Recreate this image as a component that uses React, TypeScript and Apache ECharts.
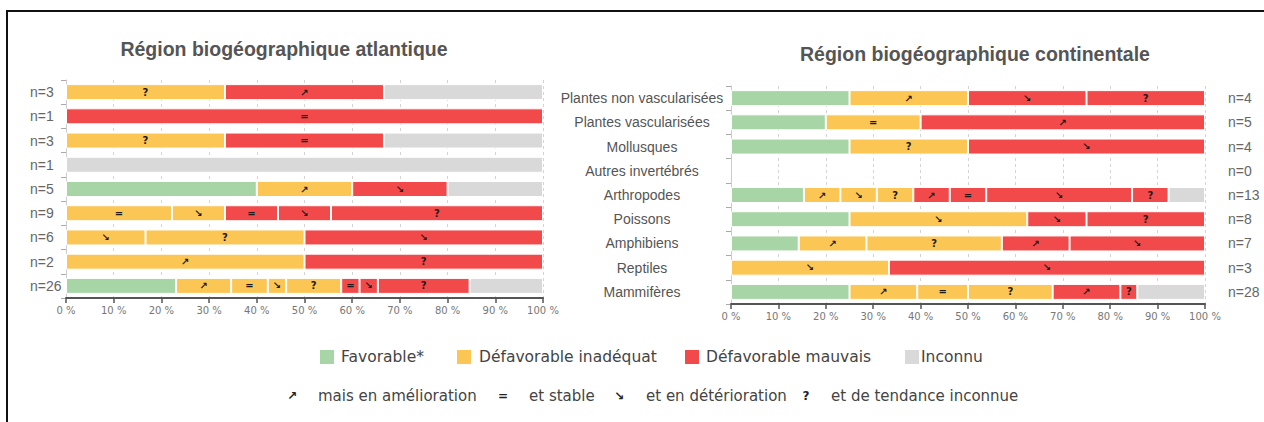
import React, { useEffect, useRef } from "react";
import * as echarts from "echarts";

// ---------- DATA ----------
const leftTitle = "Région biogéographique atlantique";
const rightTitle = "Région biogéographique continentale";

const leftCategories = ["n=3", "n=1", "n=3", "n=1", "n=5", "n=9", "n=6", "n=2", "n=26"];
const rightCategories = [
  "Plantes non vascularisées",
  "Plantes vascularisées",
  "Mollusques",
  "Autres invertébrés",
  "Arthropodes",
  "Poissons",
  "Amphibiens",
  "Reptiles",
  "Mammifères",
];
const rightCountLabels = ["n=4", "n=5", "n=4", "n=0", "n=13", "n=8", "n=7", "n=3", "n=28"];

const xTickValues = [0, 10, 20, 30, 40, 50, 60, 70, 80, 90, 100];

// counts per segment (atlantique)
const leftFavorable = [0, 0, 0, 0, 2, 0, 0, 0, 6];
const leftInadUp = [0, 0, 0, 0, 1, 0, 0, 1, 3];
const leftInadEq = [0, 0, 0, 0, 0, 2, 0, 0, 2];
const leftInadDown = [0, 0, 0, 0, 0, 1, 1, 0, 1];
const leftInadUnk = [1, 0, 1, 0, 0, 0, 2, 0, 3];
const leftBadUp = [1, 0, 0, 0, 0, 0, 0, 0, 0];
const leftBadEq = [0, 1, 1, 0, 0, 1, 0, 0, 1];
const leftBadDown = [0, 0, 0, 0, 1, 1, 3, 0, 1];
const leftBadUnk = [0, 0, 0, 0, 0, 4, 0, 1, 5];
const leftUnknown = [1, 0, 1, 1, 1, 0, 0, 0, 4];

// counts per segment (continentale)
const rightFavorable = [1, 1, 1, 0, 2, 2, 1, 0, 7];
const rightInadUp = [1, 0, 0, 0, 1, 0, 1, 0, 4];
const rightInadEq = [0, 1, 0, 0, 0, 0, 0, 0, 3];
const rightInadDown = [0, 0, 0, 0, 1, 3, 0, 1, 0];
const rightInadUnk = [0, 0, 1, 0, 1, 0, 2, 0, 5];
const rightBadUp = [0, 3, 0, 0, 1, 0, 1, 0, 4];
const rightBadEq = [0, 0, 0, 0, 1, 0, 0, 0, 0];
const rightBadDown = [1, 0, 2, 0, 4, 1, 2, 2, 0];
const rightBadUnk = [1, 0, 0, 0, 1, 2, 0, 0, 1];
const rightUnknown = [0, 0, 0, 0, 1, 0, 0, 0, 4];

const statusNames = ["Favorable*", "Défavorable inadéquat", "Défavorable mauvais", "Inconnu"];
const trendSymbols = ["↗", "=", "↘", "?"];
const trendNames = ["mais en amélioration", "et stable", "et en détérioration", "et de tendance inconnue"];

// ---------- STYLE ----------
const GREEN = "#a8d5a6";
const YELLOW = "#fcc655";
const RED = "#f24a4a";
const GREY = "#d9d9d9";

const segmentStyle = [
  { color: GREEN, sym: "", status: 0 },
  { color: YELLOW, sym: trendSymbols[0], status: 1 },
  { color: YELLOW, sym: trendSymbols[1], status: 1 },
  { color: YELLOW, sym: trendSymbols[2], status: 1 },
  { color: YELLOW, sym: trendSymbols[3], status: 1 },
  { color: RED, sym: trendSymbols[0], status: 2 },
  { color: RED, sym: trendSymbols[1], status: 2 },
  { color: RED, sym: trendSymbols[2], status: 2 },
  { color: RED, sym: trendSymbols[3], status: 2 },
  { color: GREY, sym: "", status: 3 },
];

const leftSegments = [
  leftFavorable, leftInadUp, leftInadEq, leftInadDown, leftInadUnk,
  leftBadUp, leftBadEq, leftBadDown, leftBadUnk, leftUnknown,
];
const rightSegments = [
  rightFavorable, rightInadUp, rightInadEq, rightInadDown, rightInadUnk,
  rightBadUp, rightBadEq, rightBadDown, rightBadUnk, rightUnknown,
];

function totals(segs: number[][]) {
  return segs[0].map((_, i) => segs.reduce((s, a) => s + a[i], 0));
}

function buildSeries(segs: number[][], idx: number) {
  const tot = totals(segs);
  return segs.map((arr, k) => {
    const st = segmentStyle[k];
    return {
      type: "bar",
      name: statusNames[st.status] + (st.sym ? " " + st.sym : ""),
      stack: "s" + idx,
      xAxisIndex: idx,
      yAxisIndex: idx === 0 ? 0 : 1,
      barWidth: 16,
      data: arr.map((v, i) => (v > 0 && tot[i] > 0 ? (v / tot[i]) * 100 : "-")),
      itemStyle: { color: st.color, borderColor: "#ffffff", borderWidth: 1 },
      label: {
        show: st.sym !== "",
        position: "inside",
        formatter: () => st.sym,
        fontSize: 10,
        fontWeight: "bold",
        color: "#1a1a1a",
        fontFamily: "DejaVu Sans",
      },
      emphasis: { disabled: true },
    };
  });
}

function xAxisFor(gridIndex: number) {
  return {
    type: "value",
    gridIndex,
    min: xTickValues[0],
    max: xTickValues[xTickValues.length - 1],
    interval: xTickValues[1] - xTickValues[0],
    axisLine: { show: true, lineStyle: { color: "#555", width: 2 } },
    axisTick: { show: true, length: 5, lineStyle: { color: "#555", width: 1.5 } },
    axisLabel: {
      formatter: "{value} %",
      fontSize: 10,
      color: "#777",
      fontFamily: "DejaVu Sans",
      margin: 7,
    },
    splitLine: { show: true, lineStyle: { type: [3, 3], color: "#d4d4d4", width: 1 } },
  };
}

export default function App() {
  const ref = useRef<HTMLDivElement>(null);

  useEffect(() => {
    if (!ref.current) return;
    const chart = echarts.init(ref.current, undefined, { renderer: "svg" });

    const legendRow1 = [
      { x: 320, color: GREEN, tx: 341 },
      { x: 457, color: YELLOW, tx: 479 },
      { x: 685, color: RED, tx: 706 },
      { x: 905, color: GREY, tx: 921 },
    ];
    const legendRow2 = [
      { sx: 292, tx: 318 },
      { sx: 503, tx: 529 },
      { sx: 619, tx: 646 },
      { sx: 806, tx: 831 },
    ];

    const graphics: any[] = [
      { type: "line", shape: { x1: 6, y1: 11, x2: 1264, y2: 11 }, style: { stroke: "#111", lineWidth: 2 } },
      { type: "line", shape: { x1: 7, y1: 10, x2: 7, y2: 422 }, style: { stroke: "#111", lineWidth: 2 } },
      {
        type: "text", x: 284, y: 49,
        style: { text: leftTitle, align: "center", verticalAlign: "middle", font: "bold 19.5px 'Liberation Sans'", fill: "#555" },
      },
      {
        type: "text", x: 975, y: 54,
        style: { text: rightTitle, align: "center", verticalAlign: "middle", font: "bold 19.5px 'Liberation Sans'", fill: "#555" },
      },
    ];
    legendRow1.forEach((l, i) => {
      graphics.push({ type: "rect", shape: { x: l.x, y: 350, width: 14, height: 14 }, style: { fill: l.color } });
      graphics.push({
        type: "text", x: l.tx, y: 357,
        style: { text: statusNames[i], verticalAlign: "middle", font: "15.5px 'DejaVu Sans'", fill: "#444" },
      });
    });
    legendRow2.forEach((l, i) => {
      graphics.push({
        type: "text", x: l.sx, y: 396,
        style: { text: trendSymbols[i], align: "center", verticalAlign: "middle", font: "bold 12px 'DejaVu Sans'", fill: "#222" },
      });
      graphics.push({
        type: "text", x: l.tx, y: 396,
        style: { text: trendNames[i], verticalAlign: "middle", font: "15px 'DejaVu Sans'", fill: "#444" },
      });
    });

    chart.setOption({
      animation: false,
      backgroundColor: "#ffffff",
      grid: [
        { left: 66, top: 80, width: 477, height: 218 },
        { left: 731, top: 86, width: 474, height: 218 },
      ],
      xAxis: [xAxisFor(0), xAxisFor(1)],
      yAxis: [
        {
          type: "category",
          gridIndex: 0,
          data: leftCategories,
          inverse: true,
          axisLine: { show: true, lineStyle: { color: "#ccc" } },
          axisTick: { show: true, length: 5, lineStyle: { color: "#aaa" } },
          axisLabel: { align: "left", margin: 36, fontSize: 14, color: "#666", fontFamily: "Liberation Sans" },
          splitLine: { show: false },
        },
        {
          type: "category",
          gridIndex: 1,
          data: rightCategories,
          inverse: true,
          axisLine: { show: true, lineStyle: { color: "#ccc" } },
          axisTick: { show: true, length: 5, lineStyle: { color: "#aaa" } },
          axisLabel: { align: "center", margin: 89, fontSize: 14, color: "#555", fontFamily: "Liberation Sans" },
          splitLine: { show: false },
        },
        {
          type: "category",
          gridIndex: 1,
          position: "right",
          data: rightCountLabels,
          inverse: true,
          axisLine: { show: false },
          axisTick: { show: false },
          axisLabel: { align: "left", margin: 23, fontSize: 14, color: "#666", fontFamily: "Liberation Sans" },
          splitLine: { show: false },
        },
      ],
      series: [...buildSeries(leftSegments, 0), ...buildSeries(rightSegments, 1)],
      graphic: graphics,
    });

    return () => chart.dispose();
  }, []);

  return (
    <div
      ref={ref}
      style={{ position: "fixed", left: 0, top: 0, width: 1264, height: 422, background: "#fff" }}
    />
  );
}
